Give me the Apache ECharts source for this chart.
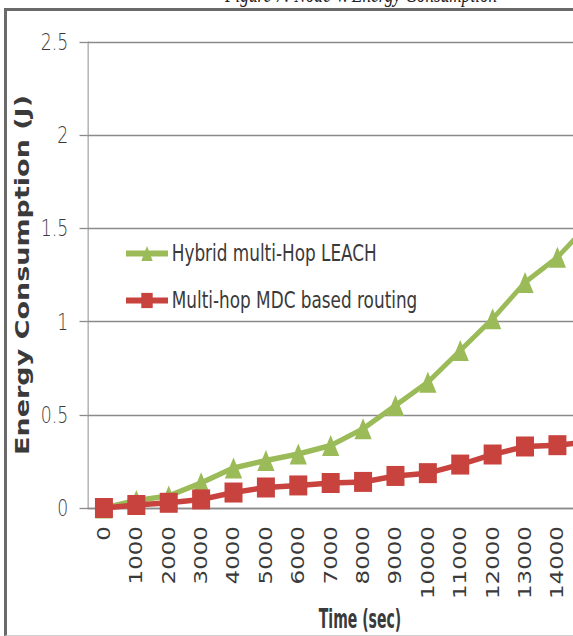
<!DOCTYPE html>
<html>
<head>
<meta charset="utf-8">
<script src="https://cdn.jsdelivr.net/npm/echarts@6/dist/echarts.min.js"></script>
<style>
  html, body { margin: 0; padding: 0; background: #fff; overflow: hidden; }
  #stage { position: relative; width: 573px; height: 636px; overflow: hidden; }
  #chart { position: absolute; left: 0; top: 0; width: 764px; height: 636px;
           transform: scaleX(0.75); transform-origin: 0 0; }
  #frame { position: absolute; left: 4px; top: 8px; width: 640px; height: 624px;
           border-left: 3px solid #6a6a6a; border-top: 3px solid #6a6a6a;
           border-bottom: 1px solid #d0d0d0; pointer-events: none; }
</style>
</head>
<body>
<div id="stage">
  <div id="chart"></div>
  <div id="frame"></div>
</div>
<script>
// Simulation time steps (seconds)
const times = ['0', '1000', '2000', '3000', '4000', '5000', '6000', '7000',
               '8000', '9000', '10000', '11000', '12000', '13000', '14000', '15000'];

// Energy consumption (J) per protocol
const hybridLeach = [0.00, 0.04, 0.065, 0.135, 0.215, 0.255, 0.29, 0.335,
                     0.425, 0.55, 0.675, 0.845, 1.015, 1.21, 1.345, 1.53];
const mdcRouting  = [0.00, 0.016, 0.028, 0.046, 0.083, 0.11, 0.121, 0.134,
                     0.14, 0.172, 0.187, 0.233, 0.287, 0.33, 0.337, 0.355];

const seriesNames = ['Hybrid multi-Hop LEACH', 'Multi-hop MDC based routing'];
const yTicks = { min: 0, max: 2.5, step: 0.5 };
// the last time step runs past the right edge of the plot; its label stays hidden
const labelledSteps = 15;

const GREEN = '#9bbb59';
const RED = '#c8423e';
const TEXT = '#3a3a3a';

const chart = echarts.init(document.getElementById('chart'), null, { renderer: 'svg' });

chart.setOption({
  backgroundColor: '#ffffff',
  animation: false,
  graphic: [
    {
      type: 'text',
      left: 300,
      top: -17,
      style: {
        text: 'Figure 7: Node V. Energy Consumption',
        font: 'italic 23px "Liberation Serif", serif',
        fill: '#222'
      }
    },
    {
      // x-axis title, drawn narrow like a condensed face
      type: 'text',
      x: 480,
      y: 619,
      scaleX: 0.8,
      style: {
        text: 'Time (sec)',
        font: 'bold 26px "DejaVu Sans Condensed", "DejaVu Sans", sans-serif',
        fill: TEXT,
        align: 'center',
        verticalAlign: 'middle'
      }
    }
  ],
  grid: { left: 117, top: 42, width: 691, bottom: 128, outerBoundsMode: 'none', containLabel: false },
  legend: {
    orient: 'vertical',
    left: 160,
    top: 237,
    itemWidth: 56,
    itemHeight: 19,
    itemGap: 24,
    lineStyle: { width: 6 },
    textStyle: { fontFamily: 'DejaVu Sans', fontSize: 22.5, color: TEXT },
    data: seriesNames
  },
  xAxis: {
    type: 'category',
    data: times,
    boundaryGap: true,
    axisLine: { lineStyle: { color: '#8a8a8a', width: 1.3 } },
    axisTick: { show: false },
    axisLabel: {
      interval: (index) => index < labelledSteps,
      rotate: 90,
      margin: 18,
      fontFamily: 'DejaVu Sans',
      fontSize: 23,
      color: TEXT
    }
  },
  yAxis: {
    type: 'value',
    min: yTicks.min,
    max: yTicks.max,
    interval: yTicks.step,
    axisLine: { show: true, lineStyle: { color: '#8a8a8a', width: 1.3 } },
    axisTick: { show: true, length: 11, lineStyle: { color: '#8a8a8a', width: 1.3 } },
    splitLine: { lineStyle: { color: '#8a8a8a', width: 1.3 } },
    axisLabel: {
      margin: 26,
      fontFamily: 'DejaVu Sans',
      fontWeight: 200,
      fontSize: 23,
      color: TEXT
    },
    name: 'Energy Consumption (J)',
    nameLocation: 'middle',
    nameGap: 58,
    nameTextStyle: {
      fontFamily: 'DejaVu Sans',
      fontWeight: 'bold',
      fontSize: 27,
      color: TEXT
    }
  },
  series: [
    {
      name: seriesNames[0],
      type: 'line',
      data: hybridLeach,
      symbol: 'triangle',
      symbolSize: [23, 21],
      showAllSymbol: true,
      lineStyle: { color: GREEN, width: 5.5 },
      itemStyle: { color: GREEN }
    },
    {
      name: seriesNames[1],
      type: 'line',
      data: mdcRouting,
      symbol: 'rect',
      symbolSize: [24, 20],
      showAllSymbol: true,
      lineStyle: { color: RED, width: 5.5 },
      itemStyle: { color: RED }
    }
  ]
});
</script>
</body>
</html>
